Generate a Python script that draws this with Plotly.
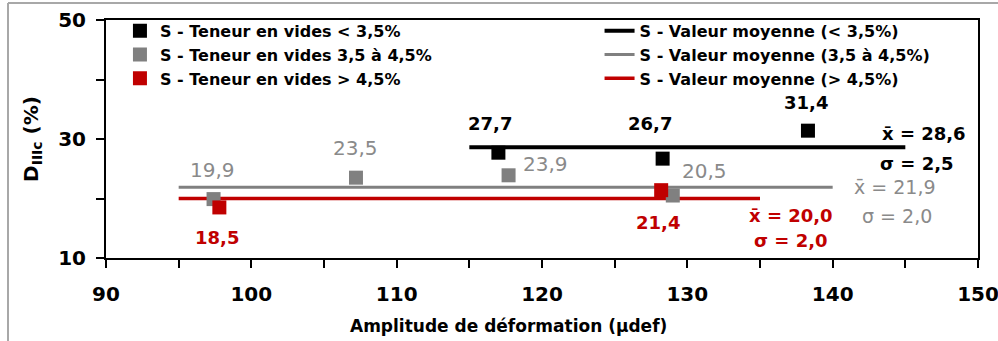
import plotly.graph_objects as go

# ---- data ----
blk_x = [117.0, 128.3, 138.3]
blk_y = [27.7, 26.7, 31.4]
gry_x = [97.4, 107.2, 117.7, 129.0]
gry_y = [19.9, 23.5, 23.9, 20.5]
red_x = [97.8, 128.2]
red_y = [18.5, 21.4]

blk_mean_x = [115, 145]
blk_mean = 28.6
blk_sigma = 2.5
gry_mean_x = [95, 140]
gry_mean = 21.9
gry_sigma = 2.0
red_mean_x = [95, 135]
red_mean = 20.0
red_sigma = 2.0

names_pts = ["S - Teneur en vides < 3,5%", "S - Teneur en vides 3,5 à 4,5%", "S - Teneur en vides > 4,5%"]
names_mean = ["S - Valeur moyenne (< 3,5%)", "S - Valeur moyenne (3,5 à 4,5%)", "S - Valeur moyenne (> 4,5%)"]

x_ticks = [90, 95, 100, 105, 110, 115, 120, 125, 130, 135, 140, 145, 150]
x_ticktext = ["90", "", "100", "", "110", "", "120", "", "130", "", "140", "", "150"]
y_ticks = [10, 20, 30, 40, 50]
y_ticktext = ["10", "", "30", "", "50"]
x_title = "Amplitude de déformation (µdef)"
y_title = "D<sub>IIIc</sub> (%)"

BLACK = "#000000"
GRAY = "#808080"
GRAYTXT = "#8a8a8a"
RED = "#c00000"
FONT = "DejaVu Sans"

def fmt(v):
    return f"{v:.1f}".replace(".", ",")

fig = go.Figure()

# mean lines (legend2)
for xs, m, c, w, n in [(blk_mean_x, blk_mean, BLACK, 4, names_mean[0]),
                       (gry_mean_x, gry_mean, GRAY, 3, names_mean[1]),
                       (red_mean_x, red_mean, RED, 3.5, names_mean[2])]:
    fig.add_trace(go.Scatter(x=xs, y=[m, m], mode="lines", name=n,
                             line=dict(color=c, width=w), legend="legend2"))

# points (legend)
for xs, ys, c, n in [(blk_x, blk_y, BLACK, names_pts[0]),
                     (gry_x, gry_y, GRAY, names_pts[1]),
                     (red_x, red_y, RED, names_pts[2])]:
    fig.add_trace(go.Scatter(x=xs, y=ys, mode="markers", name=n,
                             marker=dict(symbol="square", size=14, color=c),
                             legend="legend"))

annotations = []
def lab(x, y, text, color, bold, dx, dy, size=18):
    annotations.append(dict(x=x, y=y, xref="x", yref="y", text=text, showarrow=False,
                            xshift=dx, yshift=dy,
                            font=dict(family=FONT, size=size, color=color,
                                      weight="bold" if bold else "normal")))

blk_off = [(-8, 29), (-13, 35), (-2, 28)]
for x, y, o in zip(blk_x, blk_y, blk_off):
    lab(x, y, fmt(y), BLACK, True, *o)
gry_off = [(-1, 29), (0, 30), (37, 11), (32, 25)]
for x, y, o in zip(gry_x, gry_y, gry_off):
    lab(x, y, fmt(y), GRAYTXT, False, *o, size=20)
red_off = [(-2, -30), (-3, -32)]
for x, y, o in zip(red_x, red_y, red_off):
    lab(x, y, fmt(y), RED, True, *o)

# mean/sigma labels
lab(blk_mean_x[1], blk_mean, "x\u0304 = " + fmt(blk_mean), BLACK, True, 19, 14, 18)
lab(blk_mean_x[1], blk_mean, "\u03c3 = " + fmt(blk_sigma), BLACK, True, 12, -16, 18)
lab(gry_mean_x[1], gry_mean, "x\u0304 = " + fmt(gry_mean), GRAYTXT, False, 62, 0, 19)
lab(gry_mean_x[1], gry_mean, "\u03c3 = " + fmt(gry_sigma), GRAYTXT, False, 64, -29, 19)
lab(red_mean_x[1], red_mean, "x\u0304 = " + fmt(red_mean), RED, True, 31, -17, 18)
lab(red_mean_x[1], red_mean, "\u03c3 = " + fmt(red_sigma), RED, True, 31, -42, 18)

# x-axis title (off-centre as in the reference)
annotations.append(dict(x=(508 - 106) / 872, y=(258 - 326) / 238, xref="paper", yref="paper",
                        text=x_title, showarrow=False, xanchor="center", yanchor="middle",
                        font=dict(family=FONT, size=17, weight="bold", color="black")))

frame_x0 = (8 - 106) / 872
frame_x1 = (1000 - 106) / 872
frame_y1 = 1 + 17 / 238
fig.update_layout(
    width=998, height=341,
    margin=dict(l=106, r=20, t=20, b=83, autoexpand=False),
    paper_bgcolor="white", plot_bgcolor="white",
    font=dict(family=FONT, color="black"),
    annotations=annotations,
    showlegend=True,
    legend=dict(x=0.016, y=1.026, xanchor="left", yanchor="top",
                bgcolor="rgba(0,0,0,0)", font=dict(family=FONT, size=16, weight="bold"),
                traceorder="normal", itemwidth=30, tracegroupgap=0),
    legend2=dict(x=0.566, y=1.026, xanchor="left", yanchor="top",
                 bgcolor="rgba(0,0,0,0)", font=dict(family=FONT, size=16, weight="bold"),
                 traceorder="normal", itemwidth=30, tracegroupgap=0),
    shapes=[dict(type="line", xref="paper", yref="paper",
                 x0=frame_x0, x1=frame_x0, y0=-0.6, y1=frame_y1,
                 line=dict(color="#a8a8a8", width=2), layer="below"),
            dict(type="line", xref="paper", yref="paper",
                 x0=frame_x0, x1=frame_x1, y0=frame_y1, y1=frame_y1,
                 line=dict(color="#a8a8a8", width=2), layer="below")],
)

fig.update_xaxes(range=[90, 150], tickvals=x_ticks, ticktext=x_ticktext,
                 ticks="outside", ticklen=8, tickwidth=2, tickcolor="black",
                 showline=True, linecolor="black", linewidth=2, mirror=True,
                 showgrid=False, zeroline=False, automargin=False,
                 ticklabelstandoff=9, ticklabeloverflow="allow",
                 tickfont=dict(family=FONT, size=20, weight="bold", color="black"))
fig.update_yaxes(range=[10, 50], tickvals=y_ticks, ticktext=y_ticktext,
                 ticks="outside", ticklen=8, tickwidth=2, tickcolor="black",
                 showline=True, linecolor="black", linewidth=2, mirror=True,
                 showgrid=False, zeroline=False, automargin=False,
                 ticklabelstandoff=6, ticklabeloverflow="allow",
                 tickfont=dict(family=FONT, size=20, weight="bold", color="black"),
                 title=dict(text=y_title, standoff=14,
                            font=dict(family=FONT, size=20, weight="bold", color="black")))

fig.write_html("out.html", config={"displayModeBar": False},
               post_script="document.body.style.margin='0';")
